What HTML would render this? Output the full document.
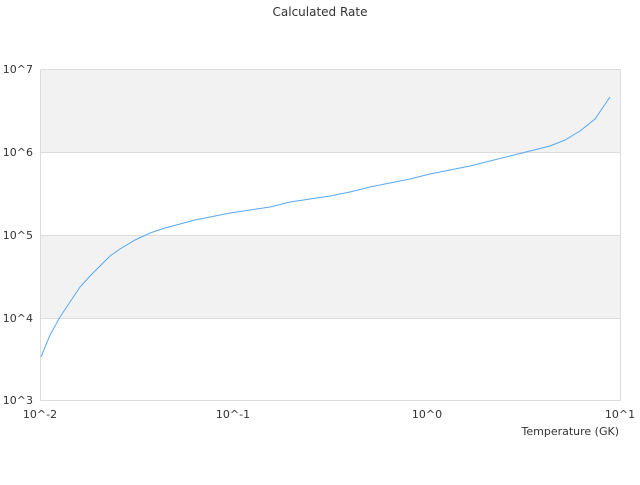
<!DOCTYPE html>
<html><head><style>
body{margin:0;background:#fff;}
svg text{font-family:"DejaVu Sans","Liberation Sans",sans-serif;font-size:11px;fill:#333;}
</style></head><body>
<svg width="640" height="480" viewBox="0 0 640 480" xmlns="http://www.w3.org/2000/svg">
<text x="320" y="16" text-anchor="middle" style="font-size:12px">Calculated Rate</text>
<rect x="40.5" y="69.5" width="580" height="83" fill="#f2f2f2"/>
<rect x="40.5" y="235.5" width="580" height="83" fill="#f2f2f2"/>
<g stroke="#dcdcdc" stroke-width="1" fill="none">
<line x1="40.5" y1="69.5" x2="620.5" y2="69.5"/>
<line x1="40.5" y1="152.5" x2="620.5" y2="152.5"/>
<line x1="40.5" y1="235.5" x2="620.5" y2="235.5"/>
<line x1="40.5" y1="318.5" x2="620.5" y2="318.5"/>
<line x1="40.5" y1="400.5" x2="620.5" y2="400.5"/>
<line x1="40.5" y1="69.5" x2="40.5" y2="400.5"/>
<line x1="620.5" y1="69.5" x2="620.5" y2="400.5"/>
</g>
<g text-anchor="end">
<text x="33" y="73">10^7</text>
<text x="33" y="156">10^6</text>
<text x="33" y="239">10^5</text>
<text x="33" y="322">10^4</text>
<text x="33" y="404">10^3</text>
</g>
<text x="40" y="418" text-anchor="middle">10^-2</text>
<text x="233" y="418" text-anchor="middle">10^-1</text>
<text x="427" y="418" text-anchor="middle">10^0</text>
<text x="620" y="418" text-anchor="middle">10^1</text>
<text x="619" y="435" text-anchor="end">Temperature (GK)</text>
<polyline fill="none" stroke="#5aa7f0" stroke-width="1" points="41,357 50,335 60,317 70,302 80,287 90,276 100,266 110,256 120,249 135,240 150,233 165,228 180,224 195,220 210,217 230,213 250,210 270,207 290,202 310,199 330,196 350,192 370,187 390,183 410,179 430,174 450,170 470,166 490,161 510,156 530,151 550,146 565,140 580,131 595,119 610,97"/>
</svg>
</body></html>
